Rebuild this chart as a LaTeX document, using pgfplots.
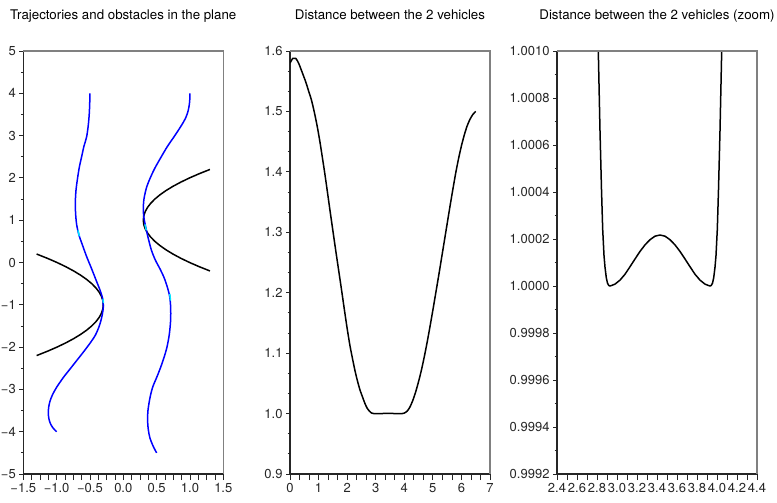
\documentclass[border=0pt]{standalone}
\usepackage{fontspec}
\setmainfont{TeX Gyre Heros}
\usepackage{pgfplots}
\pgfplotsset{compat=1.18}
\newcommand\fs{\fontsize{13bp}{15bp}\selectfont}
\newcommand\ft{\fontsize{13.3bp}{15bp}\selectfont}
\definecolor{trajblue}{RGB}{0,0,255}
\definecolor{markcyan}{RGB}{0,230,255}
\tikzset{boxlines/.style={black!50, line width=1.3bp}}
\pgfplotsset{
 panel/.style={
  scale only axis, width=200bp, height=423bp, anchor=south west,
  axis lines=left, axis line style={-, line width=1.3bp, black!85},
  tick align=outside,
  major tick length=4bp, minor tick length=2.5bp,
  xtick style={/pgfplots/major tick length=6bp, /pgfplots/minor tick length=6bp},
  tick style={black!85, line width=0.8bp},
  ticklabel style={font=\fs, text=black!85},
  xticklabel style={yshift=-2bp},
  title style={font=\ft, at={(0.5,1)}, anchor=base, yshift=26bp},
  clip mode=individual,
  every axis plot/.append style={line width=1.5bp, line join=round},
 },
}
\begin{document}
\begin{tikzpicture}
\useasboundingbox (0,0) rectangle (777bp,503bp);
% ---------------- panel 1 ----------------
\begin{axis}[panel, at={(23.3bp,29bp)},
  title={Trajectories and obstacles in the plane},
  xmin=-1.5, xmax=1.5, ymin=-5, ymax=5,
  xtick={-1.5,-1,-0.5,0,0.5,1,1.5},
  xticklabels={−1.5,−1.0,−0.5,0.0,0.5,1.0,1.5},
  minor x tick num=3,
  ytick={-5,-4,-3,-2,-1,0,1,2,3,4,5},
  yticklabels={−5,−4,−3,−2,−1,0,1,2,3,4,5},
  minor y tick num=1]
% obstacles
\addplot[black] coordinates {(-1.3,0.2) (-1.1403,0.1) (-0.9944,0) (-0.8625,-0.1) (-0.7444,-0.2) (-0.6403,-0.3) (-0.55,-0.4) (-0.4736,-0.5) (-0.4111,-0.6) (-0.3625,-0.7) (-0.3278,-0.8) (-0.3069,-0.9) (-0.3,-1) (-0.3069,-1.1) (-0.3278,-1.2) (-0.3625,-1.3) (-0.4111,-1.4) (-0.4736,-1.5) (-0.55,-1.6) (-0.6403,-1.7) (-0.7444,-1.8) (-0.8625,-1.9) (-0.9944,-2.0) (-1.1403,-2.1) (-1.3,-2.2)};
\addplot[black] coordinates {(1.3,-0.2) (1.1403,-0.1) (0.9944,0) (0.8625,0.1) (0.7444,0.2) (0.6403,0.3) (0.55,0.4) (0.4736,0.5) (0.4111,0.6) (0.3625,0.7) (0.3278,0.8) (0.3069,0.9) (0.3,1) (0.3069,1.1) (0.3278,1.2) (0.3625,1.3) (0.4111,1.4) (0.4736,1.5) (0.55,1.6) (0.6403,1.7) (0.7444,1.8) (0.8625,1.9) (0.9944,2.0) (1.1403,2.1) (1.3,2.2)};
% trajectories
\addplot[trajblue, smooth, tension=0.5] coordinates {(-1.0,-4.0) (-1.05,-3.92) (-1.09,-3.82) (-1.115,-3.70) (-1.125,-3.57) (-1.12,-3.43) (-1.10,-3.28) (-1.06,-3.12) (-1.0,-2.95) (-0.90,-2.72) (-0.80,-2.52) (-0.70,-2.32) (-0.60,-2.12) (-0.50,-1.91) (-0.42,-1.72) (-0.36,-1.50) (-0.32,-1.27) (-0.30,-1.05) (-0.31,-0.85) (-0.35,-0.65) (-0.41,-0.41) (-0.48,-0.13) (-0.55,0.14) (-0.61,0.4) (-0.665,0.65) (-0.70,0.9) (-0.715,1.15) (-0.72,1.4) (-0.71,1.7) (-0.69,1.95) (-0.66,2.25) (-0.625,2.50) (-0.59,2.75) (-0.55,2.97) (-0.525,3.25) (-0.51,3.53) (-0.503,3.8) (-0.50,4.0)};
\addplot[trajblue, smooth, tension=0.5] coordinates {(0.5,-4.5) (0.45,-4.35) (0.40,-4.15) (0.375,-3.95) (0.365,-3.75) (0.37,-3.5) (0.40,-3.2) (0.44,-2.95) (0.50,-2.72) (0.555,-2.5) (0.61,-2.25) (0.655,-2.0) (0.69,-1.7) (0.71,-1.36) (0.71,-1.05) (0.695,-0.8) (0.66,-0.58) (0.61,-0.35) (0.55,-0.15) (0.48,0.06) (0.42,0.3) (0.37,0.6) (0.335,0.85) (0.31,1.05) (0.30,1.25) (0.31,1.5) (0.35,1.78) (0.41,2.02) (0.48,2.25) (0.57,2.5) (0.66,2.74) (0.76,2.97) (0.86,3.21) (0.93,3.4) (0.975,3.6) (0.995,3.8) (1.0,4.0)};
% positions marked in cyan
\addplot[markcyan] coordinates {(-0.68,0.76) (-0.658,0.62)};
\addplot[markcyan] coordinates {(-0.302,-0.86) (-0.30,-0.96)};
\addplot[markcyan] coordinates {(0.325,0.90) (0.345,0.76)};
\addplot[markcyan] coordinates {(0.698,-0.74) (0.708,-0.90)};
\draw[boxlines] (rel axis cs:0,1) -- (rel axis cs:1,1) -- (rel axis cs:1,0);
\end{axis}
% ---------------- panel 2 ----------------
\begin{axis}[panel, at={(290bp,29bp)},
  title={Distance between the 2 vehicles},
  xmin=0, xmax=7, ymin=0.9, ymax=1.6,
  xtick={0,1,2,3,4,5,6,7}, xticklabels={0,1,2,3,4,5,6,7},
  minor x tick num=2,
  ytick={0.9,1.0,1.1,1.2,1.3,1.4,1.5,1.6},
  yticklabels={0.9,1.0,1.1,1.2,1.3,1.4,1.5,1.6},
  minor y tick num=2]
\addplot[black, smooth, tension=0.4] coordinates {(0.00,1.580) (0.10,1.588) (0.20,1.588) (0.30,1.580) (0.40,1.568) (0.55,1.549) (0.65,1.534) (0.75,1.519) (0.85,1.499) (0.95,1.476) (1.05,1.449) (1.20,1.403) (1.30,1.370) (1.40,1.336) (1.50,1.303) (1.60,1.270) (1.70,1.238) (1.80,1.206) (1.90,1.173) (2.00,1.141) (2.10,1.112) (2.20,1.088) (2.27,1.072) (2.35,1.056) (2.45,1.039) (2.55,1.026) (2.62,1.017) (2.70,1.009) (2.78,1.004) (2.85,1.001) (2.93,1.000) (3.43,1.0002) (3.93,1.000) (4.00,1.0008) (4.10,1.004) (4.20,1.011) (4.30,1.022) (4.40,1.036) (4.50,1.053) (4.60,1.072) (4.70,1.094) (4.80,1.118) (4.90,1.144) (5.00,1.171) (5.10,1.199) (5.20,1.227) (5.30,1.256) (5.40,1.285) (5.50,1.314) (5.60,1.343) (5.70,1.371) (5.80,1.398) (5.90,1.422) (6.00,1.443) (6.10,1.461) (6.20,1.476) (6.30,1.487) (6.40,1.495) (6.50,1.500)};
\draw[boxlines] (rel axis cs:0,1) -- (rel axis cs:1,1) -- (rel axis cs:1,0);
\end{axis}
% ---------------- panel 3 ----------------
% y values are (distance - 1) * 10^4
\begin{axis}[panel, at={(557bp,29bp)},
  title={Distance between the 2 vehicles (zoom)},
  xmin=2.4, xmax=4.4, ymin=-8, ymax=10,
  xtick={2.4,2.6,2.8,3.0,3.2,3.4,3.6,3.8,4.0,4.2,4.4},
  xticklabels={2.4,2.6,2.8,3.0,3.2,3.4,3.6,3.8,4.0,4.2,4.4},
  minor x tick num=1,
  ytick={-8,-6,-4,-2,0,2,4,6,8,10},
  yticklabels={0.9992,0.9994,0.9996,0.9998,1.0000,1.0002,1.0004,1.0006,1.0008,1.0010},
  minor y tick num=1]
\addplot[black] coordinates {(2.790,15) (2.800,12.6) (2.813,10) (2.830,6.6) (2.845,4.1) (2.857,2.4) (2.870,1.3) (2.880,0.8) (2.893,0.35) (2.905,0.12) (2.918,0.02) (2.930,0.0) (2.945,0.02) (2.980,0.08) (3.030,0.25) (3.080,0.50) (3.130,0.82) (3.180,1.15) (3.230,1.47) (3.280,1.75) (3.330,1.97) (3.380,2.12) (3.430,2.17) (3.480,2.12) (3.530,1.97) (3.580,1.75) (3.630,1.47) (3.680,1.15) (3.730,0.82) (3.780,0.50) (3.830,0.25) (3.880,0.08) (3.915,0.02) (3.930,0.0) (3.942,0.02) (3.955,0.12) (3.967,0.35) (3.980,0.8) (3.990,1.3) (4.003,2.4) (4.015,4.1) (4.030,6.6) (4.047,10) (4.060,12.6) (4.070,15)};
\draw[boxlines] (rel axis cs:0,1) -- (rel axis cs:1,1) -- (rel axis cs:1,0);
\end{axis}
\end{tikzpicture}
\end{document}
